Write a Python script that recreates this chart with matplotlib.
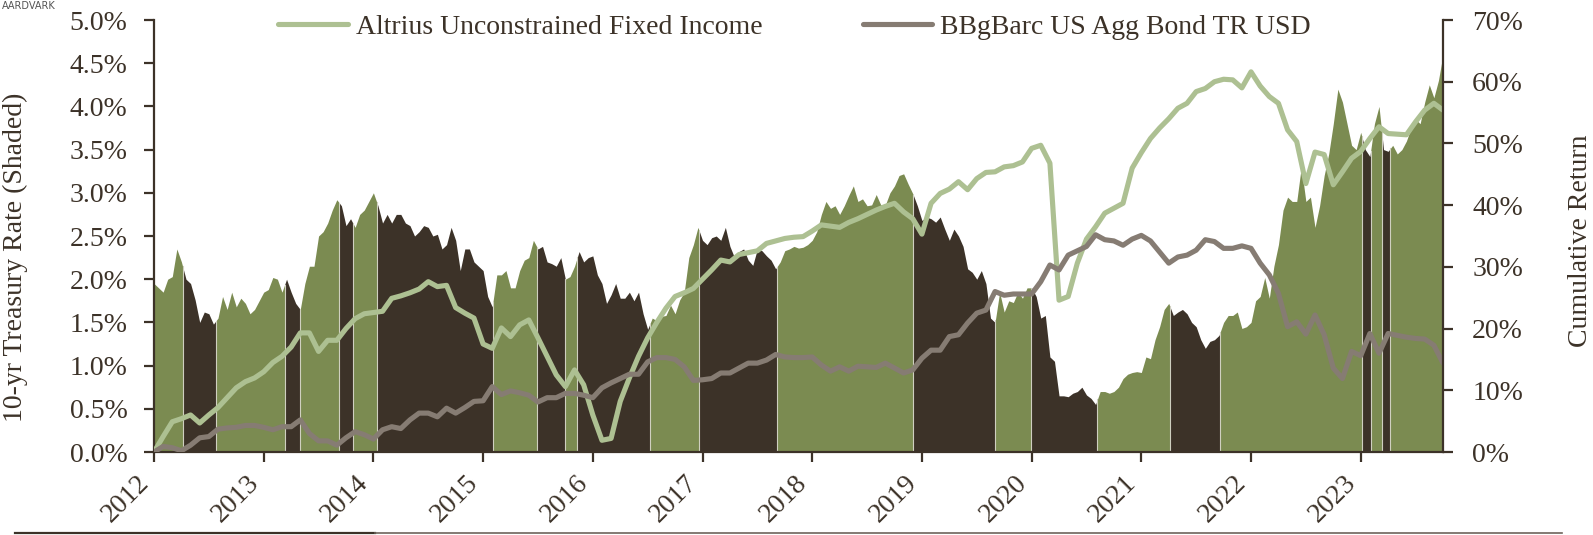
import numpy as np
import matplotlib
matplotlib.use("Agg")
import matplotlib.pyplot as plt
from matplotlib.lines import Line2D
from matplotlib.ticker import FuncFormatter
from matplotlib.transforms import ScaledTranslation

plt.rcParams['font.family'] = ['Liberation Serif', 'DejaVu Serif']

# 10-yr treasury rate (%), two readings per month starting Jan 2012
treasury_2012 = [1.95, 1.90, 1.85, 2.00, 2.03, 2.35, 2.20, 2.00, 1.95, 1.76, 1.50, 1.62,
                 1.60, 1.48, 1.55, 1.80, 1.65, 1.85, 1.68, 1.78, 1.72, 1.60, 1.65, 1.75]
treasury_2013 = [1.85, 1.88, 2.02, 2.00, 1.85, 2.00, 1.85, 1.72, 1.65, 1.95, 2.15, 2.15,
                 2.50, 2.55, 2.65, 2.80, 2.92, 2.85, 2.62, 2.70, 2.60, 2.75, 2.80, 2.90]
treasury_2014 = [3.00, 2.85, 2.65, 2.75, 2.65, 2.75, 2.75, 2.65, 2.62, 2.50, 2.55, 2.62,
                 2.60, 2.50, 2.52, 2.35, 2.40, 2.60, 2.45, 2.10, 2.35, 2.35, 2.20, 2.15]
treasury_2015 = [2.10, 1.80, 1.68, 2.05, 2.05, 2.10, 1.90, 1.90, 2.10, 2.22, 2.25, 2.45,
                 2.35, 2.38, 2.20, 2.18, 2.15, 2.25, 2.00, 2.03, 2.15, 2.32, 2.20, 2.25]
treasury_2016 = [2.27, 2.05, 1.95, 1.72, 1.82, 1.95, 1.78, 1.78, 1.85, 1.75, 1.85, 1.60,
                 1.42, 1.55, 1.52, 1.57, 1.58, 1.70, 1.60, 1.76, 1.85, 2.25, 2.40, 2.60]
treasury_2017 = [2.45, 2.40, 2.48, 2.50, 2.45, 2.60, 2.38, 2.25, 2.32, 2.35, 2.22, 2.16,
                 2.35, 2.33, 2.27, 2.22, 2.12, 2.20, 2.33, 2.35, 2.38, 2.36, 2.37, 2.40]
treasury_2018 = [2.45, 2.55, 2.75, 2.90, 2.82, 2.85, 2.75, 2.85, 2.97, 3.08, 2.90, 2.93,
                 2.85, 2.86, 2.98, 2.86, 2.86, 3.00, 3.08, 3.20, 3.22, 3.10, 2.99, 2.85]
treasury_2019 = [2.68, 2.72, 2.70, 2.66, 2.72, 2.58, 2.45, 2.58, 2.50, 2.38, 2.12, 2.08,
                 2.00, 2.10, 1.95, 1.55, 1.50, 1.85, 1.62, 1.75, 1.73, 1.85, 1.78, 1.90]
treasury_2020 = [1.90, 1.80, 1.55, 1.58, 1.10, 1.05, 0.65, 0.65, 0.64, 0.68, 0.70, 0.75,
                 0.66, 0.62, 0.55, 0.70, 0.70, 0.68, 0.70, 0.75, 0.85, 0.90, 0.92, 0.93]
treasury_2021 = [0.92, 1.10, 1.08, 1.30, 1.45, 1.65, 1.72, 1.58, 1.62, 1.65, 1.60, 1.50,
                 1.45, 1.30, 1.20, 1.28, 1.30, 1.35, 1.50, 1.58, 1.58, 1.62, 1.43, 1.45]
treasury_2022 = [1.50, 1.75, 1.80, 2.02, 1.78, 2.15, 2.40, 2.80, 2.95, 2.90, 2.90, 3.30,
                 2.90, 2.95, 2.60, 2.85, 3.20, 3.45, 3.80, 4.20, 4.05, 3.80, 3.55, 3.50]
treasury_2023 = [3.70, 3.50, 3.42, 3.80, 4.00, 3.50, 3.48, 3.55, 3.45, 3.50, 3.60, 3.75,
                 3.85, 3.80, 4.05, 4.25, 4.10, 4.30, 4.60]

# cumulative return (%), month ends starting Jan 2012
altrius = [0.0, 2.5, 4.9, 5.4, 6.0, 4.7, 6.0, 7.2, 8.8, 10.4, 11.4, 12.0,
           13.0, 14.5, 15.5, 17.0, 19.3, 19.3, 16.3, 18.1, 18.1, 20.0, 21.6, 22.4,
           22.6, 22.8, 24.9, 25.3, 25.8, 26.4, 27.6, 26.8, 27.0, 23.4, 22.5, 21.7,
           17.5, 16.8, 20.1, 18.7, 20.6, 21.4, 18.5, 15.5, 12.5, 10.6, 13.3, 10.9,
           6.0, 1.9, 2.2, 8.2, 12.0, 15.5, 18.5, 21.0, 23.3, 25.2, 25.8, 26.5,
           28.0, 29.5, 31.1, 30.8, 32.0, 32.3, 32.6, 33.8, 34.2, 34.6, 34.8, 34.9,
           35.8, 36.8, 36.6, 36.4, 37.2, 37.8, 38.5, 39.2, 39.8, 40.3, 38.9, 37.8,
           35.3, 40.3, 41.9, 42.6, 43.8, 42.5, 44.3, 45.3, 45.4, 46.2, 46.4, 47.0,
           49.2, 49.7, 46.8, 24.6, 25.2, 30.6, 34.5, 36.5, 38.7, 39.5, 40.3, 46.0,
           48.5, 50.8, 52.5, 54.0, 55.7, 56.5, 58.4, 58.9, 60.0, 60.4, 60.3, 59.0,
           61.6, 59.3, 57.6, 56.5, 52.2, 50.3, 43.5, 48.6, 48.2, 43.3, 45.4, 47.6,
           48.7, 50.8, 52.7, 51.6, 51.5, 51.4, 53.5, 55.4, 56.5, 55.4]
agg = [0.0, 0.9, 0.7, 0.2, 1.1, 2.3, 2.5, 3.7, 3.9, 4.0, 4.3, 4.3,
       4.0, 3.6, 4.1, 4.1, 5.2, 3.0, 1.8, 1.8, 1.1, 2.3, 3.3, 2.8,
       2.1, 3.6, 4.1, 3.8, 5.2, 6.3, 6.3, 5.7, 7.1, 6.3, 7.2, 8.2,
       8.3, 10.6, 9.3, 9.9, 9.6, 9.2, 8.1, 8.8, 8.8, 9.5, 9.5, 9.2,
       8.8, 10.4, 11.2, 11.9, 12.6, 12.6, 14.6, 15.3, 15.3, 15.0, 13.8, 11.6,
       11.7, 11.9, 12.8, 12.8, 13.6, 14.4, 14.4, 14.9, 15.8, 15.4, 15.3, 15.3,
       15.4, 14.1, 13.1, 13.8, 13.1, 13.9, 13.8, 13.7, 14.4, 13.6, 12.8, 13.3,
       15.2, 16.5, 16.5, 18.7, 19.0, 20.9, 22.5, 23.0, 26.0, 25.4, 25.6, 25.6,
       25.6, 27.6, 30.3, 29.5, 31.9, 32.6, 33.3, 35.2, 34.4, 34.2, 33.5, 34.5,
       35.1, 34.2, 32.4, 30.6, 31.6, 31.9, 32.7, 34.4, 34.1, 33.0, 33.0, 33.4,
       33.0, 30.6, 28.7, 25.7, 20.3, 21.1, 19.1, 22.2, 19.0, 13.6, 11.9, 16.3,
       15.6, 19.2, 16.0, 19.2, 18.9, 18.6, 18.4, 18.3, 17.3, 14.4]

# shading switches colour at these dates (first block green, then alternating)
regime_breaks = [2012.0, 2012.26, 2012.565, 2013.19, 2013.33, 2013.69, 2013.81, 2014.03,
                 2015.09, 2015.49, 2015.75, 2015.86, 2016.52, 2016.97, 2017.68, 2018.92,
                 2019.67, 2019.99, 2020.60, 2021.26, 2021.72, 2023.01, 2023.09, 2023.19,
                 2023.27, 2023.75]
years = list(range(2012, 2024))

labels = ["Altrius Unconstrained Fixed Income", "BBgBarc US Agg Bond TR USD"]

GREEN = "#7b8b51"
DARK = "#3c3228"
LIGHT_LINE = "#adc092"
GRAY_LINE = "#867c73"
TEXT = "#3c3228"

treasury_rate = np.array(treasury_2012 + treasury_2013 + treasury_2014 + treasury_2015 +
                         treasury_2016 + treasury_2017 + treasury_2018 + treasury_2019 +
                         treasury_2020 + treasury_2021 + treasury_2022 + treasury_2023)
rate_t = 2012 + np.arange(len(treasury_rate)) / 24
ret_t = 2012 + np.arange(len(altrius)) / 12

fig = plt.figure(figsize=(15.93, 5.35), dpi=100)
ax = fig.add_axes([154 / 1593, 1 - 452 / 535, (1443 - 154) / 1593, 432 / 535])
ax2 = ax.twinx()

# shaded treasury rate, split into regimes
for k in range(len(regime_breaks) - 1):
    a, b = regime_breaks[k], regime_breaks[k + 1]
    inside = (rate_t > a) & (rate_t < b)
    xs = np.concatenate([[a], rate_t[inside], [b]])
    ys = np.interp(xs, rate_t, treasury_rate)
    ax.fill_between(xs, 0, ys, color=GREEN if k % 2 == 0 else DARK, linewidth=0)
    if k > 0:
        ax.plot([a, a], [0, np.interp(a, rate_t, treasury_rate)], color="#cfcfc0", lw=0.8)

ax2.plot(ret_t, altrius, color=LIGHT_LINE, lw=3.7, solid_capstyle="round",
         solid_joinstyle="round", label=labels[0])
ax2.plot(ret_t, agg, color=GRAY_LINE, lw=3.7, solid_capstyle="round",
         solid_joinstyle="round", label=labels[1])

ax.set_xlim(2012, 2023.75)
ax.set_ylim(0, 5)
ax2.set_ylim(0, 70)
ax.set_yticks(np.arange(0, 5.01, 0.5))
ax2.set_yticks(np.arange(0, 71, 10))
ax.yaxis.set_major_formatter(FuncFormatter(lambda v, p: f"{v:.1f}%"))
ax2.yaxis.set_major_formatter(FuncFormatter(lambda v, p: f"{v:.0f}%"))
ax.set_xticks(years)
ax.set_xticklabels([str(y) for y in years], rotation=45, ha="right")
shift = ScaledTranslation(6 / 100, -6 / 100, fig.dpi_scale_trans)
for lab in ax.get_xticklabels():
    lab.set_transform(lab.get_transform() + shift)

for a_ in (ax, ax2):
    a_.spines["top"].set_visible(False)
    for s in a_.spines.values():
        s.set_color(TEXT)
        s.set_linewidth(1.6)
    a_.tick_params(colors=TEXT, labelsize=20, width=1.6, length=7)
ax.spines["right"].set_visible(False)
ax2.spines["left"].set_visible(False)
ax2.spines["bottom"].set_visible(False)
ax.tick_params(axis="y", pad=12)
ax2.tick_params(axis="y", pad=14)
ax.tick_params(axis="x", pad=6)

ax.set_ylabel("10-yr Treasury Rate (Shaded)", fontsize=20, color=TEXT)
ax.yaxis.set_label_coords(-0.098, 0.45)
ax2.set_ylabel("Cumulative Return", fontsize=20, color=TEXT)
ax2.yaxis.set_label_coords(1.097, 0.49)

leg = ax2.legend(loc="center", bbox_to_anchor=(0.497, 0.984), ncol=2, frameon=False,
                 fontsize=20, handlelength=2.5, handletextpad=0.3, columnspacing=3.6)
for txt in leg.get_texts():
    txt.set_color(TEXT)

fig.text(0.001, 0.999, "AARDVARK", fontsize=7, color="#555555", va="top",
         family="DejaVu Sans")
fig.add_artist(Line2D([15 / 1593, 375 / 1593], [2 / 535, 2 / 535], color=DARK, lw=1.6))
fig.add_artist(Line2D([375 / 1593, 1562 / 1593], [2 / 535, 2 / 535], color="#6e645b", lw=1.2))

fig.savefig("out.png", dpi=100)
